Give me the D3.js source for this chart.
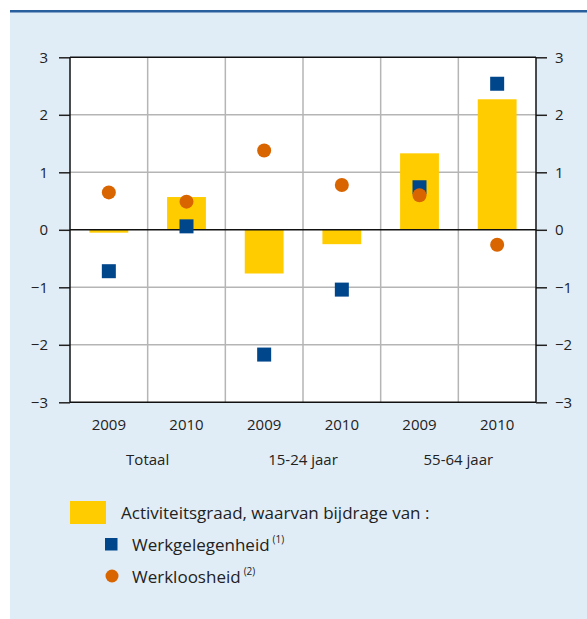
<!DOCTYPE html>
<html>
<head>
<meta charset="utf-8">
<script src="https://cdn.jsdelivr.net/npm/d3@7"></script>
<style>
  body { margin: 0; background: #fff; }
  svg { display: block; font-family: "Open Sans", sans-serif; }
</style>
</head>
<body>
<div id="chart"></div>
<script>
// data
const groups = ['Totaal', '15-24 jaar', '55-64 jaar']
const years = ['2009', '2010']
const activiteit = [-0.05, 0.57, -0.76, -0.25, 1.33, 2.27]
const werkgelegenheid = [-0.72, 0.06, -2.17, -1.04, 0.74, 2.54]
const werkloosheid = [0.65, 0.49, 1.38, 0.78, 0.60, -0.26]
const yTicks = [-3, -2, -1, 0, 1, 2, 3]

const legendItems = [
    {type: 'bar', label: 'Activiteitsgraad, waarvan bijdrage van :', sup: ''},
    {type: 'square', label: 'Werkgelegenheid', sup: '(1)'},
    {type: 'circle', label: 'Werkloosheid', sup: '(2)'}
]

const width = 587, height = 619
const margin = {left: 70, right: 536, top: 57.3, bottom: 402.3}
const colors = {bar: '#ffcc00', square: '#00468b', circle: '#d96500'}

const keys = []
groups.forEach(g => years.forEach(y => keys.push(g + '|' + y)))

const svg = d3.select('#chart').append('svg')
    .attr('width', width)
    .attr('height', height)

// panel
svg.append('rect')
    .attr('x', 10).attr('y', 11)
    .attr('width', width - 10).attr('height', height - 11)
    .attr('fill', '#e1edf6')
svg.append('rect')
    .attr('x', 10).attr('y', 10)
    .attr('width', width - 10).attr('height', 2.5)
    .attr('fill', '#2a5f9e')

const x = d3.scaleBand()
    .domain(keys)
    .range([margin.left, margin.right])

const y = d3.scaleLinear()
    .domain([-3, 3])
    .range([margin.bottom, margin.top])

// plot background
svg.append('rect')
    .attr('x', margin.left).attr('y', margin.top)
    .attr('width', margin.right - margin.left)
    .attr('height', margin.bottom - margin.top)
    .attr('fill', '#fff')

// grid
const grid = svg.append('g').attr('stroke', '#b5b5b5').attr('stroke-width', 1.5)
grid.selectAll('line.h')
    .data(yTicks.filter(d => d !== 0 && d !== 3 && d !== -3))
    .join('line')
    .attr('x1', margin.left).attr('x2', margin.right)
    .attr('y1', d => y(d)).attr('y2', d => y(d))
grid.selectAll('line.v')
    .data(keys.slice(1))
    .join('line')
    .attr('x1', d => x(d)).attr('x2', d => x(d))
    .attr('y1', margin.top).attr('y2', margin.bottom)

// bars
svg.append('g').selectAll('rect')
    .data(activiteit)
    .join('rect')
    .attr('x', (d, i) => x(keys[i]) + x.bandwidth() * 0.25)
    .attr('width', x.bandwidth() * 0.5)
    .attr('y', d => y(Math.max(0, d)))
    .attr('height', d => Math.abs(y(d) - y(0)))
    .attr('fill', colors.bar)

// axes
const fmt = d3.format('d')
const yLeft = d3.axisLeft(y).tickValues(yTicks).tickFormat(fmt).tickSize(11).tickPadding(11)
const yRight = d3.axisRight(y).tickValues(yTicks).tickFormat(fmt).tickSize(11).tickPadding(8)

const axL = svg.append('g')
    .attr('transform', `translate(${margin.left},0)`)
    .call(yLeft)
const axR = svg.append('g')
    .attr('transform', `translate(${margin.right},0)`)
    .call(yRight);
[axL, axR].forEach(ax => {
    ax.select('.domain').remove()
    ax.selectAll('line').attr('stroke', '#222').attr('stroke-width', 1.5)
    ax.selectAll('text').attr('font-size', 15).attr('fill', '#222')
        .attr('font-family', '"Open Sans", sans-serif')
})

const frame = svg.append('g').attr('stroke', '#111').attr('stroke-width', 1.5).attr('fill', 'none')
frame.append('line')
    .attr('x1', margin.left).attr('x2', margin.left)
    .attr('y1', margin.top).attr('y2', margin.bottom)
frame.append('line')
    .attr('x1', margin.right).attr('x2', margin.right)
    .attr('y1', margin.top).attr('y2', margin.bottom)
;[3, 0, -3].forEach(v => {
    frame.append('line')
        .attr('x1', margin.left).attr('x2', margin.right)
        .attr('y1', y(v)).attr('y2', y(v))
})

// squares
const sq = 14
svg.append('g').selectAll('rect')
    .data(werkgelegenheid)
    .join('rect')
    .attr('x', (d, i) => x(keys[i]) + x.bandwidth() / 2 - sq / 2)
    .attr('y', d => y(d) - sq / 2)
    .attr('width', sq).attr('height', sq)
    .attr('fill', colors.square)

// circles
svg.append('g').selectAll('circle')
    .data(werkloosheid)
    .join('circle')
    .attr('cx', (d, i) => x(keys[i]) + x.bandwidth() / 2)
    .attr('cy', d => y(d))
    .attr('r', 7)
    .attr('fill', colors.circle)

// x labels
svg.append('g').selectAll('text')
    .data(keys)
    .join('text')
    .attr('x', d => x(d) + x.bandwidth() / 2)
    .attr('y', 430)
    .attr('text-anchor', 'middle')
    .attr('font-size', 15)
    .attr('fill', '#222')
    .text(d => d.split('|')[1])

svg.append('g').selectAll('text')
    .data(groups)
    .join('text')
    .attr('x', d => x(d + '|' + years[1]))
    .attr('y', 465)
    .attr('text-anchor', 'middle')
    .attr('font-size', 15)
    .attr('fill', '#222')
    .text(d => d)

// legend
const legend = svg.append('g')
const rows = [519, 551, 583]
legendItems.forEach((it, i) => {
    const g = legend.append('g').attr('transform', `translate(0, ${rows[i]})`)
    if (it.type === 'bar') {
        g.append('rect').attr('x', 70).attr('y', -18).attr('width', 36).attr('height', 23)
            .attr('fill', colors.bar)
    } else if (it.type === 'square') {
        g.append('rect').attr('x', 105).attr('y', -13).attr('width', 12.5).attr('height', 12.5)
            .attr('fill', colors.square)
    } else {
        g.append('circle').attr('cx', 112).attr('cy', -7).attr('r', 6.5)
            .attr('fill', colors.circle)
    }
    const t = g.append('text')
        .attr('x', it.type === 'bar' ? 121 : 132)
        .attr('y', 0)
        .attr('font-size', 17)
        .attr('fill', '#222')
        .text(it.label)
    if (it.sup) {
        t.append('tspan')
            .attr('dx', 3).attr('dy', -8)
            .attr('font-size', 10)
            .text(it.sup)
    }
})
</script>
</body>
</html>
